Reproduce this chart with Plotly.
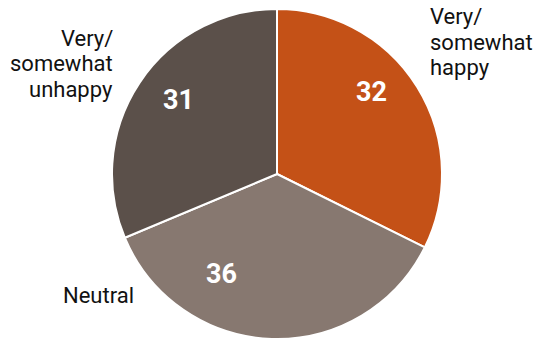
import plotly.graph_objects as go

categories = ["Very/<br>somewhat<br>happy", "Neutral", "Very/<br>somewhat<br>unhappy"]
values = [32, 36, 31]
colors = ["#C45117", "#877870", "#5B504A"]

W, H = 533, 341
cx, cy, r = 277, 174, 165

fig = go.Figure(go.Pie(
    labels=categories,
    values=values,
    sort=False,
    direction="clockwise",
    rotation=0,
    marker=dict(colors=colors, line=dict(color="white", width=2)),
    textinfo="none",
    hoverinfo="label+value",
    domain=dict(x=[(cx - r) / W, (cx + r) / W], y=[(H - cy - r) / H, (H - cy + r) / H]),
    showlegend=False,
))

def px(x):
    return x / W

def py(y):
    return 1 - y / H

# category label anchors: (x, y of first line cap centre, xanchor)
label_pos = [(428, 16.5, "left"), (136, 295, "right"), (115, 38, "right")]
line_pitch = 25.5
# value label centres
value_pos = [(371.5, 91.5), (221, 274), (178, 100)]

annotations = []
for cat, (x, y0, xa) in zip(categories, label_pos):
    for i, line in enumerate(cat.split("<br>")):
        annotations.append(dict(
            text=line, x=px(x), y=py(y0 + i * line_pitch), xref="paper", yref="paper",
            xanchor=xa, yanchor="middle", showarrow=False,
            font=dict(family="Roboto", size=22, color="#111111"),
        ))
for v, (x, y) in zip(values, value_pos):
    annotations.append(dict(
        text=f"<b>{v}</b>", x=px(x), y=py(y), xref="paper", yref="paper",
        xanchor="center", yanchor="middle", showarrow=False,
        font=dict(family="Roboto", size=27, color="white"),
    ))

fig.update_layout(
    width=W, height=H,
    margin=dict(l=0, r=0, t=0, b=0),
    paper_bgcolor="white", plot_bgcolor="white",
    annotations=annotations,
)

fig.write_html(
    "out.html",
    config={"displayModeBar": False},
    post_script="document.body.style.margin='0';document.body.style.overflow='hidden';",
)
